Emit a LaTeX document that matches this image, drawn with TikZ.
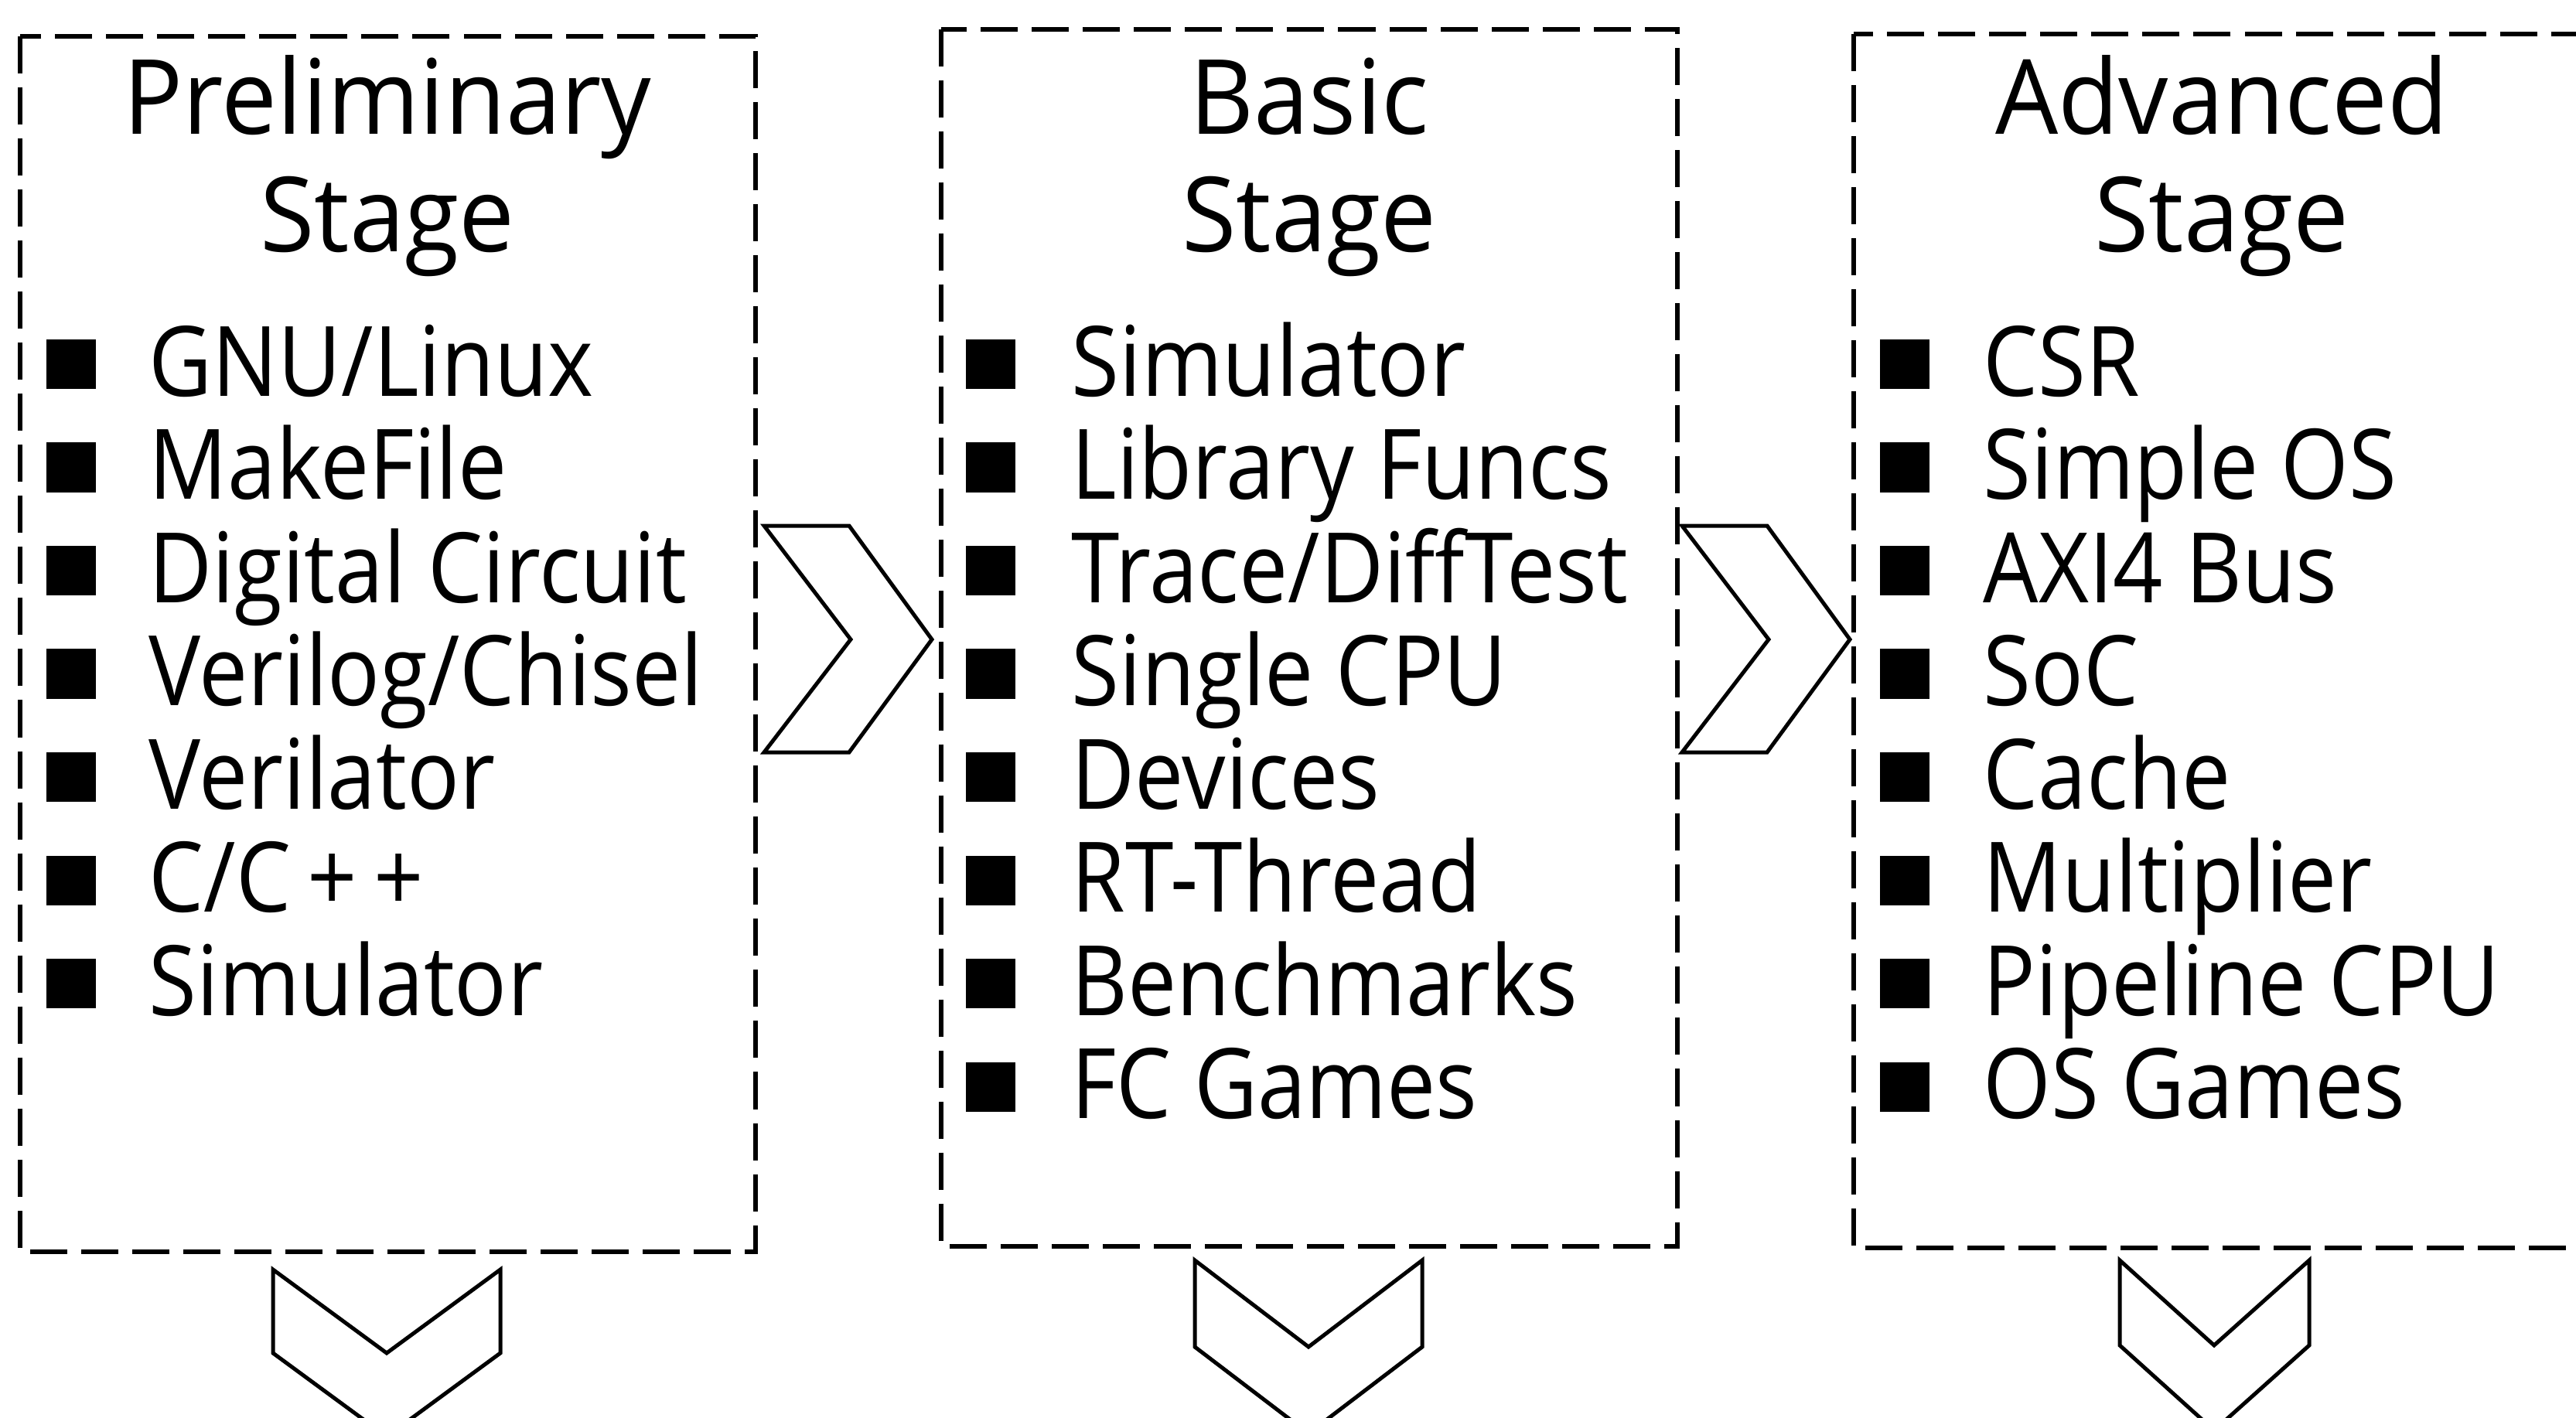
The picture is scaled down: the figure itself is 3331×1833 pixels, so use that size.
\documentclass[tikz,border=0pt]{standalone}
\usepackage{fontspec}
\setmainfont[FakeStretch=0.895]{Open Sans}
\newfontfamily\stagefont[FakeStretch=0.955]{Open Sans}
\usepackage{tikz}

\begin{document}
\begin{tikzpicture}[x=0.01cm, y=-0.01cm,
	stagebox/.style={draw, dash pattern=on 0.48cm off 0.18cm, line width=0.055cm, rectangle, inner sep=0pt},
	chevron/.style={draw, line width=0.05cm, miter limit=20},
	bullet/.style={fill, rectangle, minimum size=0.64cm, inner sep=0pt},
	itemtext/.style={anchor=base west, inner sep=0pt, font=\fontsize{35.8}{40}\selectfont},
	titletext/.style={anchor=base, inner sep=0pt, font=\stagefont\fontsize{38.2}{43}\selectfont}]

	\useasboundingbox (0,0) rectangle (3331,1833);
	\clip (0,0) rectangle (3331,1833);

	% stage boxes
	\draw[stagebox] (26,47) rectangle (977,1619);
	\draw[stagebox] (1217,38) rectangle (2169,1612);
	\draw[stagebox] (2397,44) rectangle (3349,1614);

	% titles
	\node[titletext] (pre-t1) at (501,173) {Preliminary};
	\node[titletext] (pre-t2) at (501,325) {Stage};
	\node[titletext] (basic-t1) at (1693,173) {Basic};
	\node[titletext] (basic-t2) at (1693,325) {Stage};
	\node[titletext] (adv-t1) at (2873,173) {Advanced};
	\node[titletext] (adv-t2) at (2873,325) {Stage};

	% items
	\foreach \txt [count=\i] in {GNU/Linux, MakeFile, Digital Circuit, Verilog/Chisel, Verilator, C/C\kern0.17em+\kern0.17em+, Simulator} {
		\node[bullet] (pre-b\i) at (92, {337.5+133.5*\i}) {};
		\node[itemtext] (pre-\i) at (192, {378.5+133.5*\i}) {\txt};
	}
	\foreach \txt [count=\i] in {Simulator, Library Funcs, Trace/DiffTest, Single CPU, Devices, RT-Thread, Benchmarks, FC Games} {
		\node[bullet] (basic-b\i) at (1281, {337.5+133.5*\i}) {};
		\node[itemtext] (basic-\i) at (1385, {378.5+133.5*\i}) {\txt};
	}
	\foreach \txt [count=\i] in {CSR, Simple OS, AXI4 Bus, SoC, Cache, Multiplier, Pipeline CPU, OS Games} {
		\node[bullet] (adv-b\i) at (2463, {337.5+133.5*\i}) {};
		\node[itemtext] (adv-\i) at (2564, {378.5+133.5*\i}) {\txt};
	}

	% chevrons between stages
	\draw[chevron] (988,680) -- (1098,680) -- (1205,827) -- (1098,973) -- (988,973) -- (1100,827) -- cycle;
	\draw[chevron] (2175,680) -- (2285,680) -- (2392,827) -- (2285,973) -- (2175,973) -- (2287,827) -- cycle;

	% chevrons below stages
	\draw[chevron] (353,1642) -- (500,1750) -- (647,1642) -- (647,1750) -- (500,1858) -- (353,1750) -- cycle;
	\draw[chevron] (1545,1630) -- (1692,1742) -- (1839,1630) -- (1839,1742) -- (1692,1854) -- (1545,1742) -- cycle;
	\draw[chevron] (2741,1630) -- (2863,1740) -- (2986,1630) -- (2986,1740) -- (2863,1850) -- (2741,1740) -- cycle;

\end{tikzpicture}
\end{document}
